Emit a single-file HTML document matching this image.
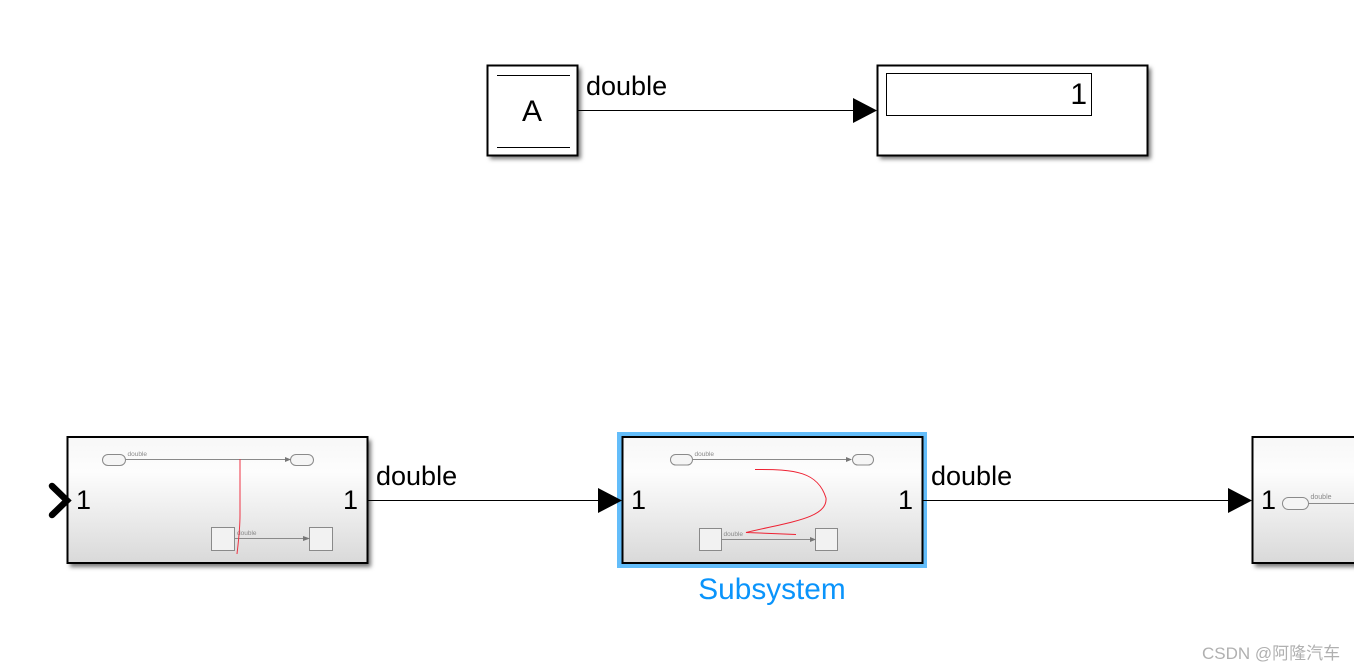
<!DOCTYPE html>
<html>
<head>
<meta charset="utf-8">
<style>
html,body{margin:0;padding:0;background:#fff;width:1354px;height:671px;overflow:hidden}
svg{display:block}
text{font-family:"Liberation Sans",sans-serif}
</style>
</head>
<body>
<svg width="1354" height="671" viewBox="0 0 1354 671" xmlns="http://www.w3.org/2000/svg">
<defs>
<linearGradient id="g" x1="0" y1="0" x2="0" y2="1">
<stop offset="0" stop-color="#f7f7f7"/>
<stop offset="0.28" stop-color="#fdfdfd"/>
<stop offset="1" stop-color="#d9d9d9"/>
</linearGradient>
<filter id="s" x="-5%" y="-10%" width="110%" height="120%"><feGaussianBlur stdDeviation="2"/></filter>
</defs>

<!-- Shadows -->
<g fill="#777" filter="url(#s)">
<rect x="490" y="68" width="91" height="91"/>
<rect x="880" y="68" width="271" height="91"/>
<rect x="70" y="440" width="301" height="127"/>
<rect x="1255" y="440" width="110" height="127"/>
</g>

<!-- Constant/From A -->
<rect x="487.500" y="65.500" width="90" height="90" fill="#fff" stroke="#000" stroke-width="2"/>
<line x1="497" y1="75.500" x2="570" y2="75.500" stroke="#000"/>
<line x1="497" y1="147.500" x2="570" y2="147.500" stroke="#000"/>
<text x="532" y="121" font-size="30" text-anchor="middle">A</text>

<text x="586" y="95" font-size="27">double</text>
<line x1="578" y1="110.500" x2="855" y2="110.500" stroke="#000"/>
<polygon points="853,98 877,110.500 853,123" fill="#000"/>

<!-- Display -->
<rect x="877.500" y="65.500" width="270" height="90" fill="#fff" stroke="#000" stroke-width="2"/>
<rect x="886.500" y="73.500" width="205" height="42" fill="#fff" stroke="#000"/>
<text x="1087" y="104" font-size="30" text-anchor="end">1</text>

<!-- Left subsystem -->
<rect x="67.500" y="437" width="300" height="126" fill="url(#g)" stroke="#000" stroke-width="2"/>
<polyline points="52,486 67,500.500 52,515" fill="none" stroke="#000" stroke-width="6.500" stroke-linecap="round" stroke-linejoin="miter"/>
<text x="76" y="509" font-size="27">1</text>
<text x="343" y="509" font-size="27">1</text>
<rect x="102.500" y="454.500" width="23" height="11" rx="5.500" fill="#f5f5f5" stroke="#8a8a8a"/>
<rect x="290.500" y="454.500" width="23" height="11" rx="5.500" fill="#f5f5f5" stroke="#8a8a8a"/>
<text x="127.500" y="456" font-size="6.500" fill="#8a8a8a">double</text>
<line x1="126" y1="459.500" x2="286" y2="459.500" stroke="#8a8a8a"/>
<polygon points="285,457 291,459.500 285,462" fill="#777"/>
<rect x="211.500" y="527.500" width="23" height="23" fill="#f2f2f2" stroke="#8a8a8a"/>
<rect x="309.500" y="527.500" width="23" height="23" fill="#f2f2f2" stroke="#8a8a8a"/>
<text x="237" y="535" font-size="6.500" fill="#8a8a8a">double</text>
<line x1="235" y1="538.500" x2="304" y2="538.500" stroke="#8a8a8a"/>
<polygon points="303,536 310,538.500 303,541" fill="#777"/>
<path d="M240,459 L240,515 C240,530 238,545 237,554" fill="none" stroke="#ee3344" stroke-width="1"/>

<!-- Middle subsystem -->
<rect x="617" y="432" width="310" height="136" fill="#63bdfa"/>
<rect x="622.500" y="437" width="300" height="126" fill="url(#g)" stroke="#000" stroke-width="2"/>
<text x="631" y="509" font-size="27">1</text>
<text x="898" y="509" font-size="27">1</text>
<rect x="670.500" y="454.500" width="22" height="10.500" rx="5.200" fill="#f5f5f5" stroke="#8a8a8a"/>
<rect x="852.500" y="454.500" width="21" height="10.500" rx="5.200" fill="#f5f5f5" stroke="#8a8a8a"/>
<text x="694.500" y="456" font-size="6.500" fill="#8a8a8a">double</text>
<line x1="693" y1="459.500" x2="848" y2="459.500" stroke="#8a8a8a"/>
<polygon points="846,457 852,459.500 846,462" fill="#777"/>
<rect x="699.500" y="528.500" width="22" height="22" fill="#f2f2f2" stroke="#8a8a8a"/>
<rect x="815.500" y="528.500" width="22" height="22" fill="#f2f2f2" stroke="#8a8a8a"/>
<text x="723.500" y="536" font-size="6.500" fill="#8a8a8a">double</text>
<line x1="722" y1="539.500" x2="811" y2="539.500" stroke="#8a8a8a"/>
<polygon points="810,537 816,539.500 810,542" fill="#777"/>
<path d="M755,469.500 C795,469 818,472 826,498 C828,518 790,522 746,532.500 L796,534.500" fill="none" stroke="#ee2233" stroke-width="1"/>
<text x="772" y="599" font-size="29.800" fill="#0a94fb" text-anchor="middle">Subsystem</text>

<!-- Connector 1 -->
<text x="376" y="485" font-size="27">double</text>
<line x1="368" y1="500.500" x2="600" y2="500.500" stroke="#000"/>
<polygon points="598,488 622,500.500 598,513" fill="#000"/>

<!-- Connector 2 -->
<text x="931" y="485" font-size="27">double</text>
<line x1="923" y1="500.500" x2="1230" y2="500.500" stroke="#000"/>
<polygon points="1228,488 1252,500.500 1228,513" fill="#000"/>

<!-- Right subsystem -->
<rect x="1252.500" y="437" width="110" height="126" fill="url(#g)" stroke="#000" stroke-width="2"/>
<text x="1261" y="509" font-size="27">1</text>
<rect x="1282.500" y="497.500" width="26" height="12" rx="6" fill="#f5f5f5" stroke="#8a8a8a"/>
<text x="1310.500" y="499" font-size="7" fill="#8a8a8a">double</text>
<line x1="1308" y1="503.500" x2="1354" y2="503.500" stroke="#8a8a8a"/>

<!-- Watermark -->
<text x="1202" y="659" font-size="17" fill="#b0b0b0" style="font-family:'Liberation Sans','Noto Sans CJK SC',sans-serif">CSDN @阿隆汽车</text>
</svg>
</body>
</html>
